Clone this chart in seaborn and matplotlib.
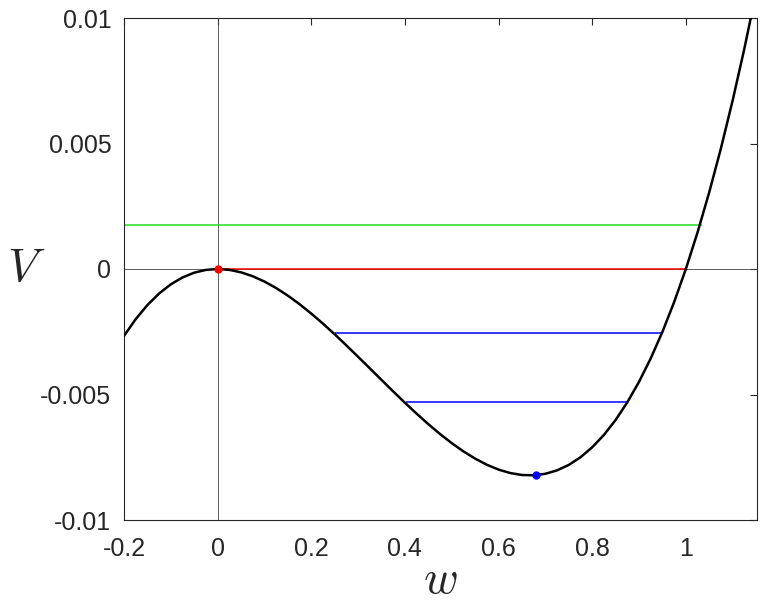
import matplotlib
matplotlib.use("Agg")
import matplotlib.pyplot as plt
import seaborn as sns
import pandas as pd

# potential curve V(w)
w = [-0.200, -0.175, -0.150, -0.125, -0.100, -0.075, -0.050, -0.025, 0.000,
     0.025, 0.050, 0.075, 0.100, 0.125, 0.150, 0.175, 0.200, 0.225, 0.250,
     0.275, 0.300, 0.325, 0.350, 0.375, 0.400, 0.425, 0.450, 0.475, 0.500,
     0.525, 0.550, 0.575, 0.600, 0.625, 0.650, 0.675, 0.700, 0.725, 0.750,
     0.775, 0.800, 0.825, 0.850, 0.875, 0.900, 0.925, 0.950, 0.975, 1.000,
     1.025, 1.050, 1.075, 1.100, 1.125, 1.150]
V = [-0.002664, -0.001997, -0.001436, -0.000976, -0.000611, -0.000336, -0.000146, -0.000036, 0.0,
     -0.000034, -0.000132, -0.000289, -0.000500, -0.000759, -0.001061, -0.001402, -0.001776, -0.002178, -0.002602,
     -0.003043, -0.003497, -0.003957, -0.004419, -0.004878, -0.005328, -0.005764, -0.006181, -0.006574, -0.006938,
     -0.007266, -0.007555, -0.007799, -0.007992, -0.008130, -0.008207, -0.008218, -0.008159, -0.008022, -0.007805,
     -0.007500, -0.007104, -0.006611, -0.006015, -0.005312, -0.004496, -0.003562, -0.002504, -0.001319, 0.0,
     0.001458, 0.003059, 0.004810, 0.006716, 0.008780, 0.011010]

# energy levels: value, start, end, colour
level_v = [0.00175, 0.0, -0.00255, -0.0053]
level_start = [-0.2, 0.0, 0.25, 0.402]
level_end = [1.034, 1.0, 0.951, 0.874]
level_col = ["#22dd22", "red", "blue", "blue"]

# equilibrium points
eq_w = [0.0, 0.68]
eq_v = [0.0, -0.0082]
eq_col = ["red", "blue"]

sns.set_style("white")
plt.rcParams["font.family"] = ["Liberation Sans", "DejaVu Sans"]
plt.rcParams["mathtext.fontset"] = "cm"

fig = plt.figure(figsize=(7.72, 6.02), dpi=100)
ax = fig.add_axes([124 / 772, 82 / 602, 633 / 772, 502 / 602])

ax.axhline(0, color="#444444", lw=0.6, zorder=1)
ax.axvline(0, color="#444444", lw=0.6, zorder=1)

for v, a, b, c in zip(level_v, level_start, level_end, level_col):
    ax.hlines(v, a, b, color=c, lw=1.1, zorder=2)

df = pd.DataFrame({"w": w, "V": V})
sns.lineplot(data=df, x="w", y="V", color="black", lw=1.8, ax=ax, zorder=3)

for x, y, c in zip(eq_w, eq_v, eq_col):
    ax.plot(x, y, "o", color=c, ms=5, zorder=4)

ax.set_xlim(-0.2, 1.152)
ax.set_ylim(-0.01, 0.01)
ax.set_xticks([-0.2, 0, 0.2, 0.4, 0.6, 0.8, 1])
ax.set_xticklabels(["-0.2", "0", "0.2", "0.4", "0.6", "0.8", "1"])
ax.set_yticks([-0.01, -0.005, 0, 0.005, 0.01])
ax.set_yticklabels(["-0.01", "-0.005", "0", "0.005", "0.01"])
ax.tick_params(direction="in", length=5, width=0.8, labelsize=18, colors="#262626",
               top=True, right=True)
ax.tick_params(axis="x", pad=12)
ax.tick_params(axis="y", pad=9)
for s in ax.spines.values():
    s.set_color("#262626")
    s.set_linewidth(0.8)

ax.set_xlabel(r"$w$", fontsize=34, va="baseline")
ax.xaxis.set_label_coords(0.5, -0.145)
ax.set_ylabel(r"$V$", fontsize=34, rotation=0, va="center", ha="center")
ax.yaxis.set_label_coords(-0.155, 0.5)

fig.savefig("out.png", dpi=100)
